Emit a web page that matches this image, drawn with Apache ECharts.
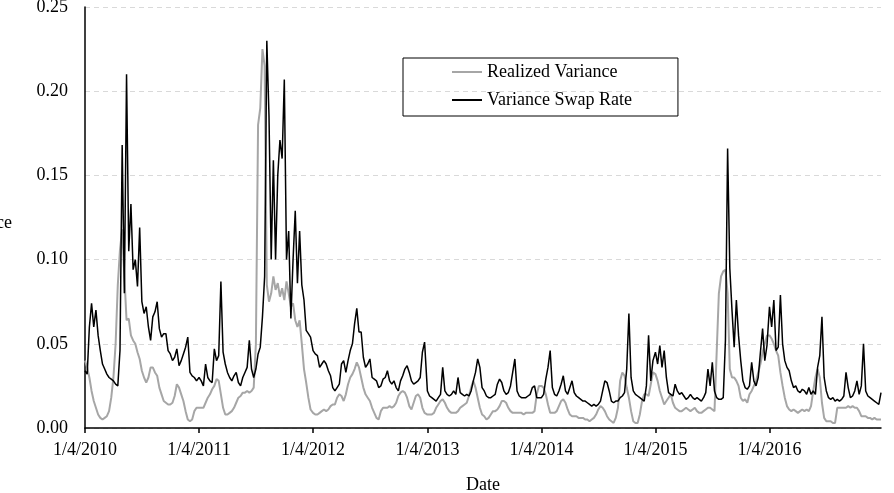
<!DOCTYPE html>
<html>
<head>
<meta charset="utf-8">
<script src="https://cdn.jsdelivr.net/npm/echarts@6/dist/echarts.min.js"></script>
<style>
  html, body { margin: 0; padding: 0; background: #fff; }
  #chart { width: 894px; height: 493px; }
</style>
</head>
<body>
<div id="chart"></div>
<script>
// weekly readings, each year starts on Jan 4 and steps by 7 days
const years = [2010, 2011, 2012, 2013, 2014, 2015, 2016];

const vs2010 = [0.034,0.032,0.060,0.074,0.060,0.070,0.055,0.046,0.038,0.035,0.032,0.030,0.029,0.028,0.026,0.025,0.046,0.168,0.080,0.210,0.105,0.133,0.094,0.100,0.084,0.119,0.075,0.068,0.072,0.060,0.052,0.066,0.069,0.075,0.059,0.054,0.056,0.056,0.046,0.044,0.040,0.042,0.047,0.037,0.040,0.044,0.048,0.054,0.033,0.031,0.030,0.028];
const vs2011 = [0.030,0.028,0.025,0.038,0.030,0.028,0.027,0.047,0.040,0.043,0.087,0.045,0.038,0.033,0.030,0.028,0.031,0.033,0.027,0.025,0.030,0.033,0.036,0.052,0.035,0.030,0.035,0.044,0.048,0.066,0.090,0.230,0.185,0.100,0.159,0.100,0.150,0.171,0.160,0.207,0.100,0.117,0.065,0.100,0.129,0.086,0.117,0.085,0.076,0.058,0.056,0.054];
const vs2012 = [0.046,0.044,0.043,0.036,0.038,0.040,0.038,0.034,0.031,0.024,0.022,0.024,0.026,0.038,0.040,0.033,0.040,0.046,0.050,0.062,0.071,0.057,0.057,0.042,0.036,0.038,0.041,0.030,0.029,0.028,0.024,0.025,0.029,0.030,0.034,0.028,0.026,0.028,0.024,0.022,0.028,0.031,0.035,0.037,0.033,0.028,0.026,0.027,0.028,0.030,0.045,0.051];
const vs2013 = [0.022,0.019,0.018,0.017,0.016,0.018,0.020,0.036,0.022,0.020,0.019,0.020,0.022,0.020,0.030,0.021,0.020,0.019,0.020,0.019,0.022,0.028,0.033,0.041,0.036,0.024,0.022,0.019,0.018,0.018,0.019,0.020,0.026,0.029,0.027,0.022,0.020,0.021,0.025,0.033,0.041,0.022,0.019,0.018,0.018,0.018,0.019,0.020,0.024,0.025,0.018,0.018];
const vs2014 = [0.018,0.020,0.029,0.036,0.046,0.024,0.020,0.019,0.022,0.026,0.031,0.022,0.020,0.024,0.028,0.021,0.019,0.018,0.017,0.016,0.016,0.015,0.014,0.013,0.014,0.013,0.014,0.016,0.022,0.028,0.027,0.022,0.016,0.015,0.016,0.016,0.018,0.019,0.021,0.035,0.068,0.030,0.022,0.020,0.019,0.018,0.017,0.016,0.025,0.055,0.028,0.040];
const vs2015 = [0.045,0.038,0.049,0.036,0.046,0.030,0.021,0.020,0.019,0.026,0.022,0.020,0.021,0.019,0.017,0.018,0.020,0.018,0.017,0.018,0.017,0.016,0.018,0.021,0.035,0.025,0.039,0.022,0.018,0.017,0.017,0.018,0.052,0.166,0.095,0.070,0.048,0.076,0.055,0.040,0.028,0.024,0.023,0.025,0.039,0.028,0.025,0.030,0.045,0.059,0.040,0.049];
const vs2016 = [0.072,0.060,0.076,0.046,0.048,0.079,0.050,0.040,0.036,0.034,0.028,0.024,0.025,0.022,0.021,0.023,0.022,0.020,0.024,0.020,0.022,0.020,0.036,0.043,0.066,0.030,0.022,0.018,0.017,0.018,0.016,0.017,0.016,0.017,0.019,0.033,0.024,0.018,0.019,0.022,0.028,0.020,0.025,0.050,0.022,0.019,0.018,0.017,0.016,0.015,0.014,0.021];

const rv2010 = [0.040,0.036,0.030,0.022,0.016,0.012,0.008,0.006,0.005,0.006,0.007,0.010,0.018,0.030,0.050,0.085,0.106,0.118,0.090,0.064,0.065,0.055,0.052,0.050,0.045,0.041,0.034,0.030,0.027,0.030,0.036,0.036,0.033,0.031,0.024,0.020,0.016,0.015,0.014,0.014,0.015,0.019,0.026,0.024,0.020,0.016,0.010,0.005,0.004,0.005,0.010,0.012];
const rv2011 = [0.012,0.012,0.012,0.015,0.018,0.020,0.023,0.025,0.029,0.028,0.020,0.012,0.008,0.008,0.009,0.010,0.012,0.015,0.018,0.019,0.021,0.021,0.022,0.021,0.022,0.024,0.050,0.180,0.190,0.225,0.215,0.085,0.075,0.080,0.090,0.082,0.086,0.078,0.083,0.076,0.087,0.080,0.072,0.074,0.064,0.060,0.064,0.050,0.035,0.027,0.018,0.011];
const rv2012 = [0.009,0.008,0.008,0.009,0.010,0.011,0.010,0.011,0.013,0.014,0.014,0.018,0.020,0.019,0.016,0.020,0.026,0.030,0.032,0.035,0.039,0.036,0.030,0.024,0.020,0.018,0.016,0.012,0.009,0.006,0.005,0.010,0.012,0.012,0.012,0.013,0.012,0.013,0.015,0.019,0.021,0.022,0.021,0.018,0.013,0.011,0.015,0.019,0.020,0.018,0.012,0.009];
const rv2013 = [0.008,0.008,0.008,0.009,0.012,0.014,0.016,0.017,0.015,0.012,0.010,0.009,0.009,0.009,0.010,0.012,0.013,0.014,0.015,0.019,0.024,0.028,0.024,0.018,0.012,0.008,0.007,0.005,0.006,0.008,0.010,0.010,0.011,0.013,0.016,0.016,0.015,0.012,0.010,0.009,0.009,0.009,0.009,0.009,0.008,0.009,0.009,0.009,0.009,0.010,0.020,0.025];
const rv2014 = [0.025,0.024,0.020,0.014,0.009,0.009,0.009,0.010,0.013,0.016,0.017,0.015,0.011,0.008,0.007,0.007,0.007,0.006,0.006,0.006,0.005,0.005,0.004,0.005,0.006,0.008,0.011,0.013,0.012,0.010,0.007,0.005,0.004,0.003,0.006,0.012,0.028,0.033,0.031,0.024,0.018,0.010,0.004,0.003,0.003,0.008,0.016,0.020,0.020,0.019,0.026,0.033];
const rv2015 = [0.032,0.028,0.022,0.018,0.014,0.016,0.018,0.020,0.015,0.012,0.011,0.010,0.010,0.011,0.012,0.011,0.010,0.011,0.012,0.010,0.009,0.009,0.010,0.011,0.012,0.012,0.011,0.010,0.045,0.080,0.090,0.093,0.094,0.080,0.035,0.030,0.030,0.028,0.025,0.018,0.016,0.017,0.015,0.020,0.022,0.025,0.028,0.033,0.038,0.045,0.050,0.055];
const rv2016 = [0.055,0.053,0.050,0.046,0.043,0.033,0.025,0.018,0.013,0.011,0.010,0.011,0.010,0.009,0.010,0.011,0.010,0.011,0.010,0.013,0.022,0.030,0.035,0.030,0.015,0.006,0.004,0.004,0.004,0.003,0.003,0.012,0.012,0.012,0.012,0.012,0.013,0.012,0.013,0.012,0.012,0.010,0.007,0.007,0.007,0.006,0.006,0.005,0.006,0.005,0.005,0.005];

const swapByYear = [vs2010, vs2011, vs2012, vs2013, vs2014, vs2015, vs2016];
const realizedByYear = [rv2010, rv2011, rv2012, rv2013, rv2014, rv2015, rv2016];
const yTicks = [0, 0.05, 0.10, 0.15, 0.20, 0.25];

function toSeries(byYear) {
  const out = [];
  byYear.forEach((vals, k) => {
    vals.forEach((v, i) => {
      out.push([new Date(years[k], 0, 4 + 7 * i).getTime(), v]);
    });
  });
  return out;
}

const swapData = toSeries(swapByYear);
const realizedData = toSeries(realizedByYear);
const tickDates = years.map(y => new Date(y, 0, 4).getTime());

const serif = '"Liberation Serif", "Times New Roman", serif';

const chart = echarts.init(document.getElementById('chart'));
chart.setOption({
  animation: false,
  backgroundColor: '#fff',
  grid: {left: 85, right: 13, top: 7, bottom: 65, containLabel: false, outerBoundsMode: 'none'},
  legend: {
    orient: 'vertical',
    left: 403,
    top: 58,
    padding: [5, 46, 7, 49],
    itemWidth: 30,
    itemHeight: 2,
    itemGap: 10,
    borderColor: '#000',
    borderWidth: 1,
    textStyle: {fontFamily: serif, fontSize: 18, color: '#000', lineHeight: 18},
    data: [
      {name: 'Realized Variance', icon: 'rect'},
      {name: 'Variance Swap Rate', icon: 'rect'}
    ]
  },
  xAxis: {
    type: 'value',
    min: realizedData[0][0],
    max: realizedData[realizedData.length - 1][0],
    name: 'Date',
    nameLocation: 'middle',
    nameGap: 48,
    nameTextStyle: {fontFamily: serif, fontSize: 18, color: '#000'},
    axisLine: {show: true, lineStyle: {color: '#000', width: 1.5}},
    axisTick: {show: true, length: 5, lineStyle: {color: '#000', width: 1.5}, customValues: tickDates},
    axisLabel: {
      margin: 13,
      fontFamily: serif,
      fontSize: 18,
      color: '#000',
      showMinLabel: true,
      showMaxLabel: true,
      customValues: tickDates,
      formatter: v => {
        const d = new Date(v);
        return (d.getMonth() + 1) + '/' + d.getDate() + '/' + d.getFullYear();
      }
    },
    splitLine: {show: false}
  },
  yAxis: {
    type: 'value',
    min: yTicks[0],
    max: yTicks[yTicks.length - 1],
    interval: 0.05,
    name: 'Variance',
    nameLocation: 'middle',
    nameRotate: 0,
    nameGap: 73,
    nameTextStyle: {fontFamily: serif, fontSize: 18, color: '#000', verticalAlign: 'top', lineHeight: 12},
    axisLine: {show: true, lineStyle: {color: '#000', width: 1.5}},
    axisTick: {show: false},
    axisLabel: {margin: 17, fontFamily: serif, fontSize: 18, color: '#000', formatter: v => v.toFixed(2)},
    splitLine: {show: true, lineStyle: {color: '#d9d9d9', type: [5, 4], width: 1}}
  },
  series: [
    {
      name: 'Realized Variance',
      type: 'line',
      data: realizedData,
      symbol: 'none',
      lineStyle: {color: '#a6a6a6', width: 2},
      itemStyle: {color: '#a6a6a6'},
      z: 2
    },
    {
      name: 'Variance Swap Rate',
      type: 'line',
      data: swapData,
      symbol: 'none',
      lineStyle: {color: '#000', width: 1.5},
      itemStyle: {color: '#000'},
      z: 3
    }
  ]
});
</script>
</body>
</html>
